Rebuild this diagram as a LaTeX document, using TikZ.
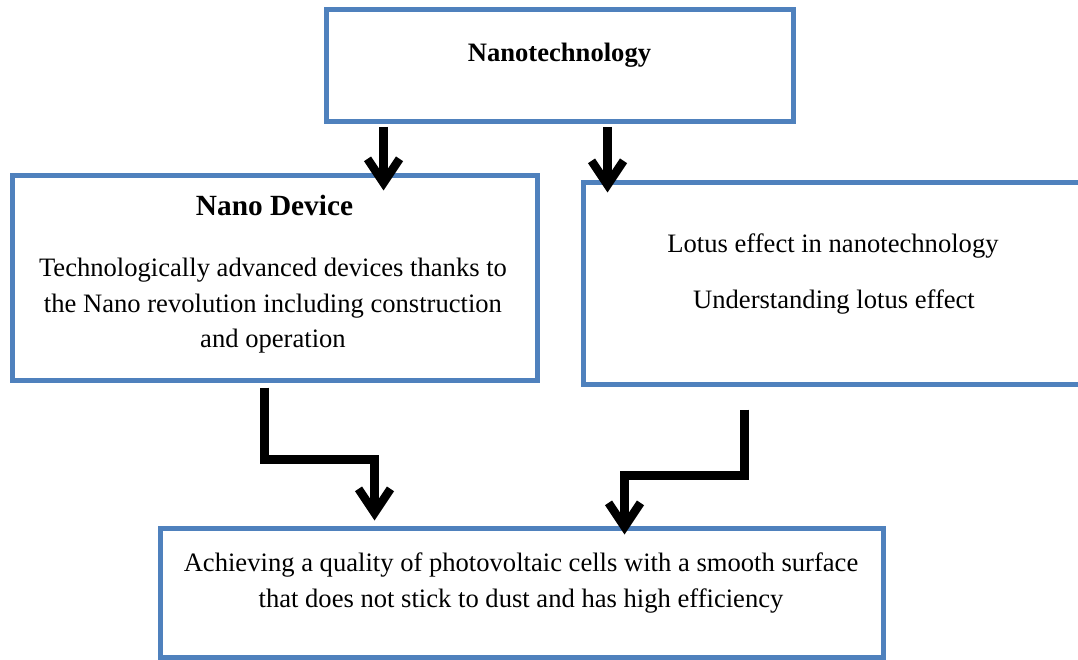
\documentclass[tikz,border=0pt]{standalone}
\usepackage{fontspec}
\setmainfont{Liberation Serif}
\usetikzlibrary{arrows.meta,calc}
\definecolor{boxblue}{RGB}{79,129,189}
\begin{document}
\begin{tikzpicture}[x=1pt,y=-1pt,
  box/.style={draw=boxblue,line width=5pt,fill=white,rectangle,inner sep=0pt},
  txt/.style={inner sep=0pt,align=center,font=\fontsize{26.6}{35.5}\selectfont},
  flow/.style={line width=8.5pt,-{Straight Barb[length=24pt,width=32pt]}}]
\useasboundingbox (0,0) rectangle (1078,660);
% boxes
\node[box,minimum width=467pt,minimum height=112pt] (top) at (559.5,66) {};
\node[box,minimum width=525pt,minimum height=204pt] (nano) at (274.5,278) {};
\node[box,minimum width=520pt,minimum height=201pt] (lotus) at (843,283.5) {};
\node[box,minimum width=723pt,minimum height=129pt] (goal) at (521.5,592.5) {};
% texts
\node[txt,font=\fontsize{26.6}{35.5}\selectfont\bfseries] (toptxt) at (559.5,55) {Nanotechnology};
\node[txt,font=\fontsize{29.3}{35}\selectfont\bfseries] (nanotitle) at (274.5,205) {Nano Device};
\node[txt] (nanobody) at (273,306) {Technologically advanced devices thanks to\\the Nano revolution including construction\\and operation};
\node[txt] (lotus1) at (833,246) {Lotus effect in nanotechnology};
\node[txt] (lotus2) at (834,302) {Understanding lotus effect};
\node[txt] (goaltxt) at (521,583) {Achieving a quality of photovoltaic cells with a smooth surface\\that does not stick to dust and has high efficiency};
% connectors
\coordinate (a1s) at ($(top.south west)+(60,2.5)$);
\coordinate (a1e) at ($(nano.north west -| a1s)+(0,17)$);
\draw[flow] (a1s) -- (a1e);
\coordinate (a2s) at ($(top.south west)+(284,2.5)$);
\coordinate (a2e) at ($(lotus.north west -| a2s)+(0,12)$);
\draw[flow] (a2s) -- (a2e);
\coordinate (lstart) at ($(nano.south west)+(255,5)$);
\coordinate (lend) at ($(goal.north west)+(217,-5)$);
\coordinate (lbend1) at ($(nano.south west)+(255,77)$);
\coordinate (lbend2) at (lbend1 -| lend);
\draw[flow] (lstart) -- (lbend1) -- (lbend2) -- (lend);
\coordinate (rstart) at ($(lotus.south west)+(164,23)$);
\coordinate (rend) at ($(goal.north west)+(467,9)$);
\coordinate (rbend1) at ($(lotus.south west)+(164,89)$);
\coordinate (rbend2) at (rbend1 -| rend);
\draw[flow] (rstart) -- (rbend1) -- (rbend2) -- (rend);
\end{tikzpicture}
\end{document}
